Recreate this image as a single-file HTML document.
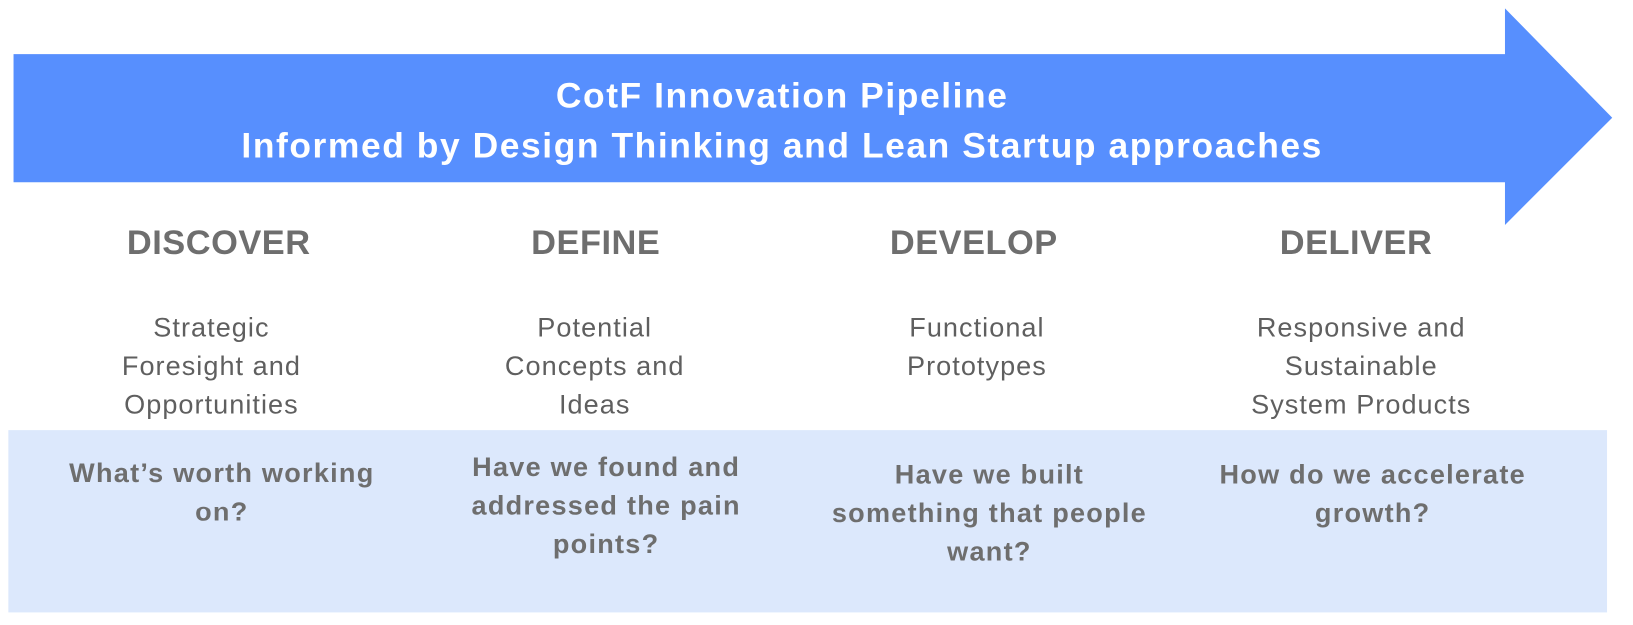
<!DOCTYPE html>
<html><head><meta charset="utf-8"><style>
body{margin:0;width:1633px;height:624px;background:#fff;position:relative;overflow:hidden;font-family:"Liberation Sans",sans-serif}
#wrap{position:absolute;left:0;top:0;width:1568px;height:600px;transform:scale(1.0415);transform-origin:0 0}
.t{position:absolute;text-align:center;transform:translateX(-50%);white-space:nowrap}
.h{font-weight:bold;font-size:33px;letter-spacing:0.5px;color:#6e6e6e;top:214px;line-height:38px}
.s{font-size:26px;letter-spacing:1px;color:#5f5f5f;line-height:37px;top:296px}
.q{font-weight:bold;font-size:26px;letter-spacing:1.2px;color:#6e6e6e;line-height:37px}
</style></head><body>
<div id="wrap">
<svg width="1568" height="600" style="position:absolute;left:0;top:0">
<polygon points="13,52 1445,52 1445,8 1548,113 1445,216 1445,175 13,175" fill="#578ffe"/>
<rect x="8" y="413" width="1535" height="175" fill="#dce8fc"/>
</svg>
<div class="t" style="left:751px;top:68px;color:#fff;font-weight:bold;font-size:34px;letter-spacing:1.5px;line-height:48px">CotF Innovation Pipeline<br>Informed by Design Thinking and Lean Startup approaches</div>
<div class="t h" style="left:210px">DISCOVER</div>
<div class="t h" style="left:572px">DEFINE</div>
<div class="t h" style="left:935px">DEVELOP</div>
<div class="t h" style="left:1302px">DELIVER</div>
<div class="t s" style="left:203px">Strategic<br>Foresight and<br>Opportunities</div>
<div class="t s" style="left:571px">Potential<br>Concepts and<br>Ideas</div>
<div class="t s" style="left:938px">Functional<br>Prototypes</div>
<div class="t s" style="left:1307px">Responsive and<br>Sustainable<br>System Products</div>
<div class="t q" style="left:213px;top:436px">What’s worth working<br>on?</div>
<div class="t q" style="left:582px;top:430px">Have we found and<br>addressed the pain<br>points?</div>
<div class="t q" style="left:950px;top:437px">Have we built<br>something that people<br>want?</div>
<div class="t q" style="left:1318px;top:437px">How do we accelerate<br>growth?</div>
</div>
</body></html>
